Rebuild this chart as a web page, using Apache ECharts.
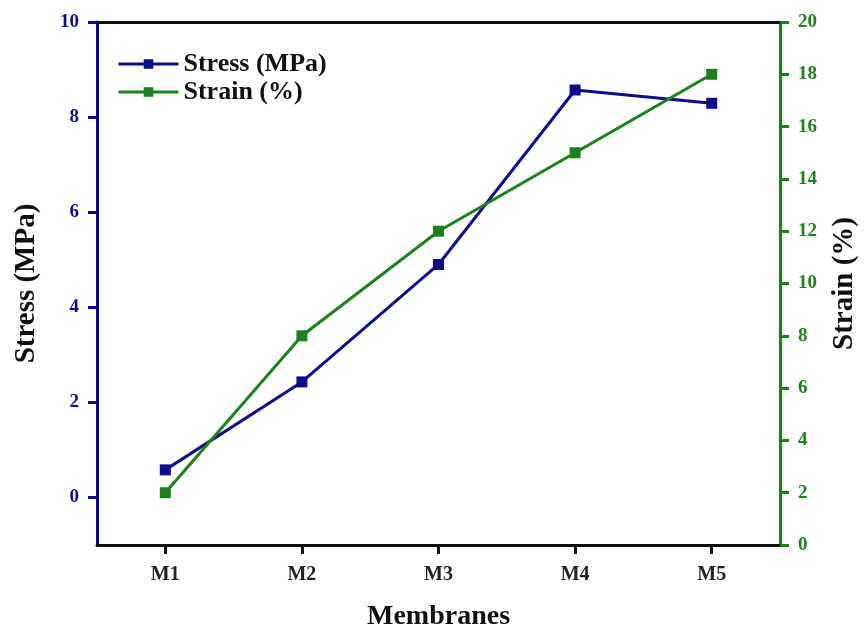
<!DOCTYPE html>
<html>
<head>
<meta charset="utf-8">
<script src="https://cdn.jsdelivr.net/npm/echarts@6/dist/echarts.min.js"></script>
<style>html,body{margin:0;padding:0;background:#fff}#c{width:864px;height:631px}</style>
</head>
<body>
<div id="c"></div>
<script>
const categories = ['M1', 'M2', 'M3', 'M4', 'M5'];
const stressValues = [0.58, 2.43, 4.9, 8.57, 8.29];
const strainValues = [2, 8, 12, 15, 18];
const stressTicks = [0, 2, 4, 6, 8, 10];
const strainTicks = [0, 2, 4, 6, 8, 10, 12, 14, 16, 18, 20];
const seriesNames = ['Stress (MPa)', 'Strain (%)'];

const BLUE = '#0d0d8c';
const GREEN = '#1b821b';
const FONT = '"Liberation Serif", "DejaVu Serif", serif';
const legendText = { fontFamily: FONT, fontWeight: 'bold', fontSize: 26, color: '#111' };

const chart = echarts.init(document.getElementById('c'));
chart.setOption({
  animation: false,
  backgroundColor: '#fff',
  grid: { left: 97, right: 84, top: 22, bottom: 86, containLabel: false, outerBoundsMode: 'none' },
  legend: {
    orient: 'vertical', left: 112, top: 46, itemGap: 2,
    itemWidth: 60, itemHeight: 12,
    lineStyle: { width: 3 },
    formatter: name => '{b|' + name + '}',
    textStyle: Object.assign({}, legendText, { rich: { b: legendText } }),
    data: seriesNames
  },
  xAxis: [{
    type: 'category', data: categories, position: 'bottom',
    name: 'Membranes', nameLocation: 'middle', nameGap: 58,
    nameTextStyle: { fontFamily: FONT, fontWeight: 'bold', fontSize: 28, color: '#111' },
    axisLine: { onZero: false, lineStyle: { color: '#111', width: 3 } },
    axisTick: { show: true, alignWithLabel: true, length: 9, lineStyle: { color: '#111', width: 3 } },
    axisLabel: { fontFamily: FONT, fontWeight: 'bold', fontSize: 20, color: '#222', margin: 20 },
    splitLine: { show: false }
  }, {
    type: 'category', data: categories, position: 'top',
    axisLine: { show: true, onZero: false, lineStyle: { color: '#111', width: 3 } },
    axisTick: { show: false }, axisLabel: { show: false }, splitLine: { show: false }
  }],
  yAxis: [{
    type: 'value', min: -1, max: 10, position: 'left',
    name: 'Stress (MPa)', nameLocation: 'middle', nameGap: 56,
    nameTextStyle: { fontFamily: FONT, fontWeight: 'bold', fontSize: 29, color: '#111' },
    axisLine: { show: true, onZero: false, lineStyle: { color: BLUE, width: 3 } },
    axisTick: { show: true, length: 9, customValues: stressTicks, lineStyle: { color: BLUE, width: 3 } },
    axisLabel: { customValues: stressTicks, fontFamily: FONT, fontWeight: 'bold', fontSize: 19, color: BLUE, margin: 18 },
    splitLine: { show: false }
  }, {
    type: 'value', min: 0, max: 20, interval: 2, position: 'right',
    name: 'Strain (%)', nameLocation: 'middle', nameGap: 50,
    nameTextStyle: { fontFamily: FONT, fontWeight: 'bold', fontSize: 29, color: '#111' },
    axisLine: { show: true, onZero: false, lineStyle: { color: GREEN, width: 3 } },
    axisTick: { show: true, length: 9, lineStyle: { color: GREEN, width: 3 } },
    axisLabel: { fontFamily: FONT, fontWeight: 'bold', fontSize: 19, color: GREEN, margin: 18 },
    splitLine: { show: false }
  }],
  series: [{
    name: seriesNames[0], type: 'line', yAxisIndex: 0, data: stressValues,
    symbol: 'rect', symbolSize: 11,
    lineStyle: { color: BLUE, width: 3 }, itemStyle: { color: BLUE }
  }, {
    name: seriesNames[1], type: 'line', yAxisIndex: 1, data: strainValues,
    symbol: 'rect', symbolSize: 11,
    lineStyle: { color: GREEN, width: 3 }, itemStyle: { color: GREEN }
  }]
});
</script>
</body>
</html>
